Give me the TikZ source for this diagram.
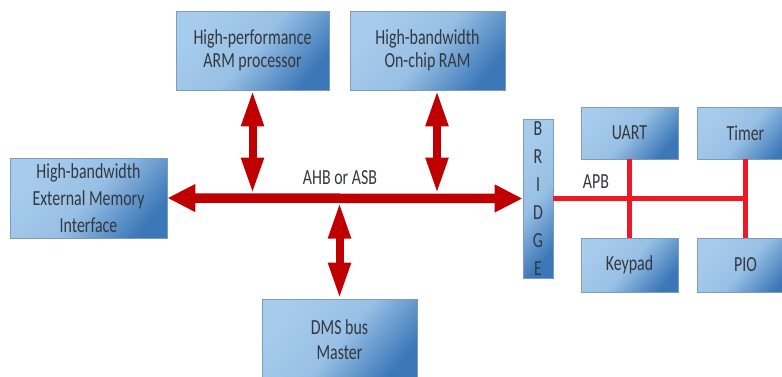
\documentclass[tikz,border=0pt]{standalone}
\usepackage{fontspec}
\newfontfamily\cf[FakeStretch=0.74]{Carlito}
\usetikzlibrary{arrows.meta}
\definecolor{boxlight}{HTML}{A7CBEB}
\definecolor{boxmid}{HTML}{98C0E5}
\definecolor{boxdark}{HTML}{3C78B8}
\definecolor{boxline}{HTML}{7D9CBD}
\definecolor{busred}{HTML}{C00000}
\definecolor{apbred}{HTML}{F01822}
\definecolor{txt}{HTML}{333840}
\tikzset{
  box/.style={draw=boxline, line width=0.8pt, shading=axis, top color=boxlight, bottom color=boxdark, middle color=boxmid, shading angle=50, inner sep=0pt, align=center, text=txt, font=\cf\fontsize{21.5}{23}\selectfont},
  bus/.style={line width=9.5pt, color=busred, {Triangle[length=28pt,width=26pt]}-{Triangle[length=28pt,width=26pt]}},
  varrow/.style={line width=8pt, color=busred, {Triangle[length=36pt,width=21pt]}-{Triangle[length=36pt,width=21pt]}},
  apb/.style={line width=5pt, color=apbred},
  lbl/.style={text=txt, font=\cf\fontsize{21.5}{23}\selectfont, inner sep=0pt}
}
\begin{document}
\begin{tikzpicture}[x=1pt,y=-1pt]
\clip (0,0) rectangle (782,376);
\fill[white] (0,0) rectangle (782,376);
% boxes
\node[box, minimum width=153pt, minimum height=79pt] (arm) at (252.5,50.5) {High-performance\\ARM processor};
\node[box, minimum width=155pt, minimum height=79pt] (ram) at (427.5,50.5) {High-bandwidth\\On-chip RAM};
\node[box, minimum width=157pt, minimum height=80pt, font=\cf\fontsize{21.5}{27}\selectfont] (ext) at (88.5,198) {High-bandwidth\\External Memory\\Interface};
\node[box, minimum width=155pt, minimum height=82pt, font=\cf\fontsize{21.5}{25}\selectfont] (dms) at (339.5,340) {DMS bus\\Master};
\node[box, minimum width=30pt, minimum height=159pt, font=\cf\fontsize{21.5}{28}\selectfont] (bridge) at (538,198.5) {B\\R\\I\\D\\G\\E};
\node[box, minimum width=97pt, minimum height=52pt] (uart) at (629.5,133) {UART};
\node[box, minimum width=97pt, minimum height=52pt] (timer) at (745.5,133) {Timer};
\node[box, minimum width=97pt, minimum height=54pt] (keypad) at (629.5,265) {Keypad};
\node[box, minimum width=97pt, minimum height=54pt] (pio) at (745.5,265) {PIO};
% bus
\coordinate (bustop) at (0,193.5);
\coordinate (busbot) at (0,202.5);
\draw[bus] (ext.east) -- (bridge.west);
\draw[varrow] (arm.south) -- (arm.south |- bustop);
\coordinate (ramport) at ([xshift=9.5pt]ram.south);
\draw[varrow] (ramport) -- (ramport |- bustop);
\draw[varrow] (dms.north |- busbot) -- (dms.north);
\node[lbl] (ahb) at (340,178) {AHB or ASB};
% APB
\draw[apb] (bridge.east) -- (bridge.east -| timer.south);
\draw[apb] (uart.south) -- (keypad.north);
\draw[apb] (timer.south) -- (pio.north);
\node[lbl] (apblbl) at (596,182) {APB};
\end{tikzpicture}
\end{document}
